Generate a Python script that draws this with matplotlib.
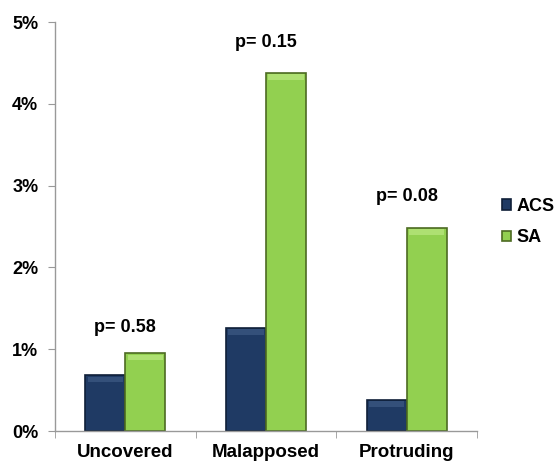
import matplotlib.pyplot as plt
import numpy as np
from matplotlib.ticker import FuncFormatter, FixedLocator

plt.rcParams['font.family'] = ['Liberation Sans', 'DejaVu Sans']
plt.rcParams['font.weight'] = 'bold'

categories = ['Uncovered', 'Malapposed', 'Protruding']
acs = [0.68, 1.26, 0.38]
sa = [0.95, 4.38, 2.48]
p_values = ['p= 0.58', 'p= 0.15', 'p= 0.08']
p_heights = [1.27, 4.75, 2.87]

acs_color = '#1f3a64'
acs_edge = '#0f1f38'
sa_color = '#92d050'
sa_edge = '#4d6b22'

fig = plt.figure(figsize=(5.57, 4.63), dpi=100)
ax = fig.add_axes([0.0987, 0.069, 0.7576, 0.8834])

x = np.arange(len(categories))
w = 0.285
b1 = ax.bar(x - w / 2, acs, w, color=acs_color, edgecolor=acs_edge, linewidth=1.2, label='ACS')
b2 = ax.bar(x + w / 2, sa, w, color=sa_color, edgecolor=sa_edge, linewidth=1.2, label='SA')

# soft bevel: lighter band under the top edge of each bar
for bars, light in ((b1, '#34507a'), (b2, '#aee072')):
    for r in bars:
        h = r.get_height()
        ax.bar(r.get_x() + r.get_width() / 2, 0.07, r.get_width() * 0.88,
               bottom=h - 0.085, color=light, linewidth=0, zorder=3)

for xi, txt, h in zip(x, p_values, p_heights):
    ax.text(xi, h, txt, ha='center', va='center', fontsize=13, fontweight='bold')

ax.set_xlim(-0.5, 2.5)
ax.set_ylim(0, 5)
ax.set_yticks(np.arange(0, 6, 1))
ax.yaxis.set_major_formatter(FuncFormatter(lambda v, _: f'{v:.0f}%'))
ax.set_xticks(x)
ax.set_xticklabels(categories, fontsize=13.5, fontweight='bold')
ax.xaxis.set_minor_locator(FixedLocator([-0.5, 0.5, 1.5, 2.5]))
ax.tick_params(axis='x', which='major', length=0, pad=9)
ax.tick_params(axis='x', which='minor', length=5, color='#999999', direction='out')
ax.tick_params(axis='y', length=5, color='#999999', labelsize=13, pad=7)
for lab in ax.get_yticklabels():
    lab.set_fontweight('bold')

for s in ('top', 'right'):
    ax.spines[s].set_visible(False)
for s in ('left', 'bottom'):
    ax.spines[s].set_color('#999999')
    ax.spines[s].set_linewidth(1.0)

leg = ax.legend(handles=[b1, b2], loc='center left', bbox_to_anchor=(0.902, 0.52),
                bbox_transform=fig.transFigure, frameon=False, fontsize=13,
                borderpad=0, borderaxespad=0,
                handlelength=0.5, handleheight=0.5, handletextpad=0.3, labelspacing=0.8)
for t in leg.get_texts():
    t.set_fontweight('bold')

fig.savefig('out.png', dpi=100)
